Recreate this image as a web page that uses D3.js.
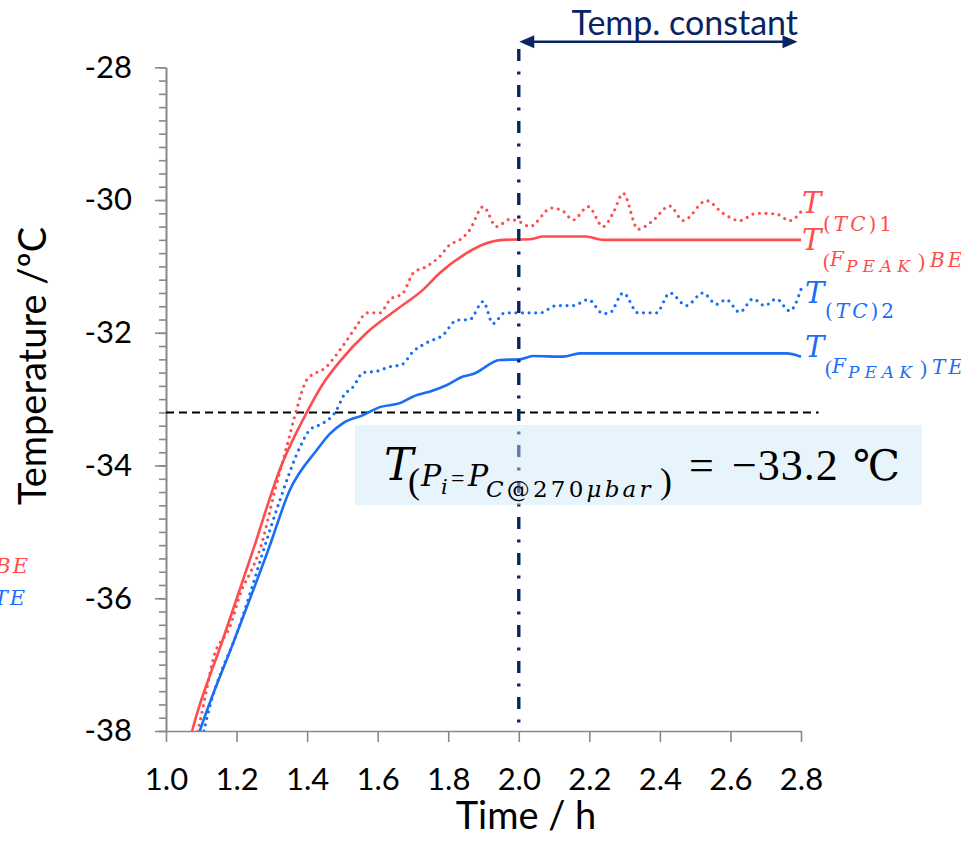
<!DOCTYPE html>
<html>
<head>
<meta charset="utf-8">
<script src="https://cdn.jsdelivr.net/npm/d3@7"></script>
<style>
  html, body { margin: 0; padding: 0; background: #fff; }
  svg { display: block; }
</style>
</head>
<body>
<svg id="chart" width="961" height="843"></svg>
<script>
// ---------------- DATA ----------------
const xTicks = [1.0, 1.2, 1.4, 1.6, 1.8, 2.0, 2.2, 2.4, 2.6, 2.8];
const yTicks = [-38, -36, -34, -32, -30, -28];

// T_(F_PEAK)BE  (red solid)
const timeBE = [1.06, 1.074, 1.16, 1.247, 1.327, 1.399, 1.446, 1.493, 1.569, 1.654, 1.729, 1.776, 1.852, 1.899, 1.955, 2.03, 2.07, 2.19, 2.24, 2.5, 2.8];
const tempBE = [-38.3, -38.0, -36.64, -35.27, -34.0, -33.2, -32.76, -32.43, -32.0, -31.65, -31.35, -31.1, -30.8, -30.67, -30.6, -30.59, -30.55, -30.55, -30.6, -30.6, -30.6];

// T_(TC)1  (red dotted)
const timeTC1 = [1.08, 1.091, 1.115, 1.133, 1.181, 1.215, 1.243, 1.266, 1.309, 1.342, 1.37, 1.399, 1.455, 1.493, 1.54, 1.569, 1.606, 1.635, 1.672, 1.701, 1.739, 1.776, 1.805, 1.833, 1.861, 1.899, 1.937, 1.975, 2.003, 2.031, 2.093, 2.126, 2.154, 2.197, 2.239, 2.267, 2.296, 2.338, 2.376, 2.428, 2.466, 2.532, 2.579, 2.626, 2.673, 2.73, 2.768, 2.801];
const tempTC1 = [-38.2, -37.98, -37.38, -36.93, -36.43, -35.87, -35.57, -35.27, -34.37, -33.72, -33.16, -32.71, -32.51, -32.26, -31.9, -31.7, -31.7, -31.5, -31.4, -31.1, -31.0, -30.85, -30.67, -30.6, -30.45, -30.1, -30.4, -30.29, -30.33, -30.4, -30.12, -30.17, -30.3, -30.1, -30.4, -30.2, -29.9, -30.44, -30.33, -30.09, -30.31, -30.01, -30.2, -30.31, -30.2, -30.21, -30.31, -30.17];

// T_(TC)2  (blue dotted)
const timeTC2 = [1.1, 1.11, 1.162, 1.19, 1.247, 1.272, 1.323, 1.38, 1.408, 1.446, 1.484, 1.502, 1.531, 1.559, 1.597, 1.635, 1.668, 1.701, 1.739, 1.786, 1.824, 1.861, 1.899, 1.927, 1.96, 2.06, 2.107, 2.154, 2.197, 2.239, 2.258, 2.296, 2.338, 2.39, 2.428, 2.475, 2.522, 2.56, 2.588, 2.626, 2.664, 2.697, 2.73, 2.768, 2.801];
const tempTC2 = [-38.2, -37.94, -37.03, -36.68, -35.78, -35.35, -34.52, -33.72, -33.46, -33.36, -33.16, -32.96, -32.81, -32.6, -32.58, -32.51, -32.48, -32.28, -32.15, -32.03, -31.81, -31.8, -31.53, -31.86, -31.7, -31.7, -31.59, -31.59, -31.5, -31.71, -31.7, -31.4, -31.7, -31.7, -31.4, -31.59, -31.4, -31.57, -31.5, -31.69, -31.49, -31.59, -31.49, -31.67, -31.33];

// T_(F_PEAK)TE  (blue solid)
const timeTE = [1.09, 1.096, 1.19, 1.29, 1.351, 1.427, 1.465, 1.502, 1.559, 1.606, 1.663, 1.701, 1.757, 1.795, 1.842, 1.871, 1.946, 2.003, 2.04, 2.126, 2.173, 2.5, 2.759, 2.80];
const tempTE = [-38.1, -38.0, -36.68, -35.27, -34.37, -33.77, -33.52, -33.36, -33.24, -33.12, -33.06, -32.96, -32.87, -32.79, -32.66, -32.62, -32.41, -32.4, -32.35, -32.36, -32.31, -32.31, -32.31, -32.36];

const refTemp = -33.2;       // T(Pi = Pc @ 270 µbar)
const constStart = 2.0;      // temperature constant from 2.0 h
const constEnd = 2.79;

// ---------------- LAYOUT ----------------
const RED = "#ff4d4d";
const BLUE = "#1b6ef3";
const NAVY = "#0a2463";
const AXIS = "#898989";
const SANS = "Lato, 'Open Sans', sans-serif";
const SERIF = "'DejaVu Serif', 'Liberation Serif', serif";
const SERIF_UP = "'Liberation Serif', 'DejaVu Serif', serif";

const svg = d3.select("#chart");
const x = d3.scaleLinear().domain([1.0, 2.8]).range([166, 801]);
const y = d3.scaleLinear().domain([-38, -28]).range([731, 67.3]);

svg.append("defs").append("clipPath").attr("id", "plot")
  .append("rect").attr("x", 166).attr("y", 0).attr("width", 700).attr("height", 731);

// Y axis (minor ticks)
const minorTicks = d3.range(-38, -27.99, 0.2).map(v => +v.toFixed(1));
svg.append("g").attr("transform", "translate(166,0)")
  .call(d3.axisLeft(y).tickValues(minorTicks).tickSize(7).tickSizeOuter(0).tickFormat(""))
  .call(g => g.selectAll("line,path").attr("stroke", AXIS).attr("stroke-width", 1.6));
// Y axis (major)
svg.append("g").attr("transform", "translate(166,0)")
  .call(d3.axisLeft(y).tickValues(yTicks).tickSize(11).tickSizeOuter(0).tickPadding(23).tickFormat(d => String(d)))
  .call(g => g.selectAll("line,path").attr("stroke", AXIS).attr("stroke-width", 1.6))
  .call(g => g.selectAll("text").attr("fill", "#000").style("font-family", SANS).style("font-size", "31px"));

// X axis
svg.append("g").attr("transform", "translate(0,731)")
  .call(d3.axisBottom(x).tickValues(xTicks).tickSize(11).tickSizeOuter(0).tickPadding(26).tickFormat(d3.format(".1f")))
  .call(g => g.selectAll("line,path").attr("stroke", AXIS).attr("stroke-width", 1.6))
  .call(g => g.selectAll("text").attr("fill", "#000").style("font-family", SANS).style("font-size", "31px"));

// Axis titles
svg.append("text").attr("transform", "translate(46,366) rotate(-90)")
  .attr("text-anchor", "middle").style("font-family", SANS).style("font-size", "38px").attr("fill", "#000")
  .text("Temperature /ºC");
svg.append("text").attr("x", 526).attr("y", 829)
  .attr("text-anchor", "middle").style("font-family", SANS).style("font-size", "38px").attr("fill", "#000")
  .text("Time / h");

// Reference horizontal dashed line
svg.append("line").attr("x1", x(1.0)).attr("x2", x(2.85)).attr("y1", y(refTemp)).attr("y2", y(refTemp))
  .attr("stroke", "#000").attr("stroke-width", 2).attr("stroke-dasharray", "8 5");

// Series
const line = d3.line().x(d => x(d[0])).y(d => y(d[1])).curve(d3.curveMonotoneX);
const series = [
  { t: timeBE, v: tempBE, color: RED, dotted: false },
  { t: timeTC1, v: tempTC1, color: RED, dotted: true },
  { t: timeTE, v: tempTE, color: BLUE, dotted: false },
  { t: timeTC2, v: tempTC2, color: BLUE, dotted: true }
];
const gLines = svg.append("g").attr("clip-path", "url(#plot)");
series.forEach(s => {
  const pts = s.t.map((t, i) => [t, s.v[i]]);
  const p = gLines.append("path").datum(pts).attr("d", line)
    .attr("fill", "none").attr("stroke", s.color);
  if (s.dotted) {
    p.attr("stroke-width", 3.2).attr("stroke-dasharray", "0 6.6").attr("stroke-linecap", "round");
  } else {
    p.attr("stroke-width", 2.6).attr("stroke-linejoin", "round");
  }
});

// Vertical dash-dot line at 2.0 h
svg.append("line").attr("x1", x(constStart)).attr("x2", x(constStart)).attr("y1", 49).attr("y2", 731)
  .attr("stroke", NAVY).attr("stroke-width", 3.4).attr("stroke-dasharray", "12 10.5 3 10.5");

// Arrow "Temp. constant"
const ay = 41.7, ax1 = x(constStart) + 0.5, ax2 = x(constEnd);
svg.append("line").attr("x1", ax1 + 6).attr("x2", ax2 - 6).attr("y1", ay).attr("y2", ay)
  .attr("stroke", NAVY).attr("stroke-width", 2.6);
svg.append("path").attr("d", `M${ax1},${ay} L${ax1 + 15},${ay - 6.5} L${ax1 + 15},${ay + 6.5} Z`).attr("fill", NAVY);
svg.append("path").attr("d", `M${ax2},${ay} L${ax2 - 15},${ay - 6.5} L${ax2 - 15},${ay + 6.5} Z`).attr("fill", NAVY);
svg.append("text").attr("x", 798).attr("y", 35).attr("text-anchor", "end")
  .style("font-family", SANS).style("font-size", "34px").attr("fill", NAVY).text("Temp. constant");

// Annotation box
svg.append("rect").attr("x", 355).attr("y", 425).attr("width", 567).attr("height", 80)
  .attr("fill", "rgb(204,231,248)").attr("fill-opacity", 0.45);

function piece(txt, px, py, size, italic, color, extra) {
  const t = svg.append("text").attr("x", px).attr("y", py)
    .style("font-family", (extra && extra.font) || SERIF).style("font-size", size + "px")
    .style("font-style", italic ? "italic" : "normal").attr("fill", color || "#000").text(txt);
  if (extra && extra.ls) t.style("letter-spacing", extra.ls + "px");
  if (extra && extra.anchor) t.attr("text-anchor", extra.anchor);
  return t;
}

// T_(Pi=PC@270µbar) = −33.2 ℃
piece("T", 384, 480, 44, true);
piece("(", 408, 493, 36, false, null, { font: SERIF_UP });
piece("P", 421, 486, 30, true);
piece("i", 441, 494, 21, true);
piece("=", 451, 486, 24, false, null, { font: SERIF_UP });
piece("P", 468, 486, 30, true);
svg.append("text").attr("x", 486).attr("y", 497).style("font-family", SERIF).style("font-size", "23px")
  .style("letter-spacing", "3.2px").attr("fill", "#000")
  .call(t => {
    t.append("tspan").style("font-style", "italic").text("C");
    t.append("tspan").text("@270");
    t.append("tspan").style("font-style", "italic").text("μbar");
  });
piece(")", 660, 493, 36, false, null, { font: SERIF_UP });
piece("=", 689, 480, 44, false, null, { font: SERIF_UP });
piece("−33.2", 732, 480, 44, false, null, { font: SERIF_UP, ls: 1 });
svg.append("text").attr("x", 853).attr("y", 480)
  .style("font-family", "'DejaVu Serif', 'DejaVu Sans', 'Noto Sans CJK SC', serif").style("font-size", "42px")
  .attr("fill", "#000").text("℃");

// Right-side series labels
function subLabel(px, py, color, inner, tail) {
  svg.append("text").attr("x", px).attr("y", py).style("font-family", SERIF).style("font-size", "20px")
    .style("letter-spacing", "3px").attr("fill", color)
    .call(t => { t.append("tspan").text("("); t.append("tspan").style("font-style", "italic").text(inner); t.append("tspan").text(")" + tail); });
}
// T_(TC)1
piece("T", 802, 213, 29, true, RED);
subLabel(823, 231, RED, "TC", "1");
// T_(F_PEAK)BE
piece("T", 802, 250, 29, true, RED);
piece("(", 823, 268, 21, false, RED, { font: SERIF_UP });
piece("F", 830, 266, 20, true, RED);
piece("PEAK", 846, 272, 17, true, RED, { ls: 5 });
piece(")", 918, 268, 21, false, RED, { font: SERIF_UP });
piece("BE", 930, 267, 20, true, RED, { ls: 3 });
// T_(TC)2
piece("T", 805, 303, 29, true, BLUE);
subLabel(825, 318, BLUE, "TC", "2");
// T_(F_PEAK)TE
piece("T", 805, 357, 29, true, BLUE);
piece("(", 825, 375, 21, false, BLUE, { font: SERIF_UP });
piece("F", 832, 373, 20, true, BLUE);
piece("PEAK", 848, 378, 17, true, BLUE, { ls: 5 });
piece(")", 920, 375, 21, false, BLUE, { font: SERIF_UP });
piece("TE", 932, 374, 20, true, BLUE, { ls: 3 });

// Cut-off legend remnants on the left edge
piece("BE", 30, 573, 21, true, RED, { anchor: "end", ls: 2 });
piece("TE", 27, 605, 21, true, BLUE, { anchor: "end", ls: 2 });
</script>
</body>
</html>
